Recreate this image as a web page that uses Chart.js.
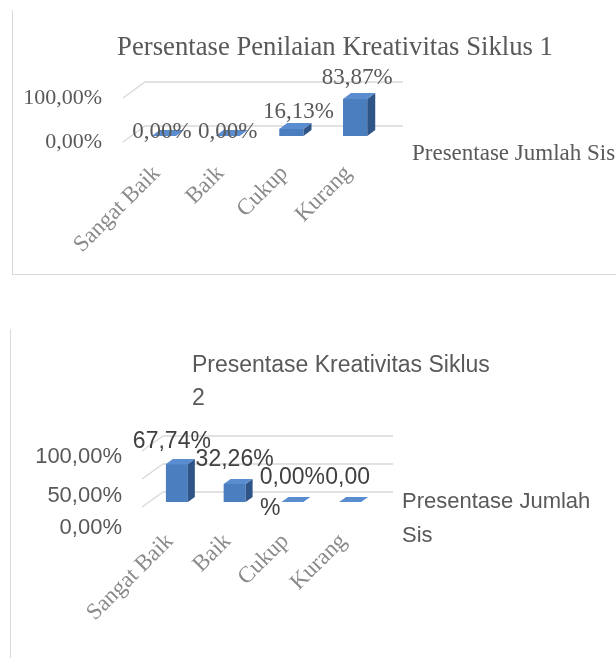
<!DOCTYPE html>
<html><head><meta charset="utf-8">
<script src="https://cdn.jsdelivr.net/npm/chart.js@4.4.1/dist/chart.umd.min.js"></script>
<style>
html,body{margin:0;padding:0;background:#fff;width:616px;height:658px;overflow:hidden;position:relative}
#b1{position:absolute;left:12px;top:10px;width:640px;height:264px;border-left:1px solid #d9d9d9;border-bottom:1px solid #d9d9d9}
#b2{position:absolute;left:10px;top:329px;width:1px;height:340px;background:#d9d9d9}
canvas{position:absolute;left:0}
#c1{top:0}
#c2{top:300px}
</style></head><body>
<div id="b1"></div><div id="b2"></div>
<canvas id="c1" width="616" height="280"></canvas>
<canvas id="c2" width="616" height="358"></canvas>
<script>
// ---- data ----
const categories = ['Sangat Baik', 'Baik', 'Cukup', 'Kurang'];
const seriesName = 'Presentase Jumlah Sis';
const siklus1Values = [0, 0, 16.13, 83.87];
const siklus2Values = [67.74, 32.26, 0, 0];
const title1Lines = ['Persentase Penilaian Kreativitas Siklus 1'];
const title2Lines = ['Presentase Kreativitas Siklus', '2'];
const legend2Lines = ['Presentase Jumlah', 'Sis'];
const yTicks1 = [0, 100];
const yTicks2 = [0, 50, 100];

const fmt = v => Number(v).toFixed(2).replace('.', ',') + '%';

const SERIF = '"Liberation Serif", "Times New Roman", serif';
const SANS = '"Liberation Sans", Arial, sans-serif';

// pseudo-3D bars and floor/back-wall gridlines
const bar3d = {
  id: 'bar3d',
  beforeDatasetsDraw(chart, args, o) {
    const {ctx, chartArea: a} = chart;
    const y = chart.scales.y;
    ctx.save();
    ctx.strokeStyle = o.gridColor;
    ctx.lineWidth = 1.4;
    y.ticks.forEach(t => {
      const py = y.getPixelForValue(t.value);
      ctx.beginPath();
      ctx.moveTo(a.left + o.front[0], py + o.front[1]);
      ctx.lineTo(a.left + o.back[0], py - o.back[1]);
      ctx.lineTo(a.right + o.backRight, py - o.back[1]);
      ctx.stroke();
    });
    ctx.restore();
  },
  afterDatasetsDraw(chart, args, o) {
    const meta = chart.getDatasetMeta(0);
    const ctx = chart.ctx;
    const dx = o.depth[0], dy = o.depth[1];
    ctx.save();
    meta.data.forEach(b => {
      const p = b.getProps(['x', 'y', 'base', 'width'], true);
      const l = p.x - p.width / 2, r = p.x + p.width / 2;
      ctx.fillStyle = o.sideColor;
      ctx.beginPath();
      ctx.moveTo(r, p.y); ctx.lineTo(r + dx, p.y - dy);
      ctx.lineTo(r + dx, p.base - dy); ctx.lineTo(r, p.base);
      ctx.closePath(); ctx.fill();
      ctx.fillStyle = o.topColor;
      ctx.beginPath();
      ctx.moveTo(l, p.y); ctx.lineTo(l + dx, p.y - dy);
      ctx.lineTo(r + dx, p.y - dy); ctx.lineTo(r, p.y);
      ctx.closePath(); ctx.fill();
    });
    ctx.restore();
  }
};

// title, legend text, data labels (and perspective-shifted y tick labels when asked)
const annot = {
  id: 'annot',
  afterDraw(chart, args, o) {
    const ctx = chart.ctx;
    ctx.save();
    ctx.textBaseline = 'alphabetic';
    ctx.fillStyle = o.titleColor;
    ctx.font = o.titleFont;
    ctx.textAlign = o.titleAlign;
    o.titleLines.forEach((s, i) => ctx.fillText(s, o.titleX, o.titleY + i * o.titleLH));
    ctx.fillStyle = o.legendColor;
    ctx.font = o.legendFont;
    ctx.textAlign = 'left';
    o.legendLines.forEach((s, i) => ctx.fillText(s, o.legendX, o.legendY + i * o.legendLH));
    if (o.yTickNudge) {
      const y = chart.scales.y;
      ctx.font = o.yTickFont;
      ctx.fillStyle = '#595959';
      ctx.textAlign = 'right';
      ctx.textBaseline = 'middle';
      y.ticks.forEach((t, i) => {
        ctx.fillText(fmt(t.value), chart.chartArea.left - o.yTickGap, y.getPixelForValue(t.value) + o.yTickNudge[i]);
      });
    }
    const meta = chart.getDatasetMeta(0);
    const data = chart.data.datasets[0].data;
    ctx.font = o.labelFont;
    ctx.fillStyle = o.labelColor;
    ctx.textAlign = 'center';
    ctx.textBaseline = 'middle';
    meta.data.forEach((b, i) => {
      const txt = fmt(data[i]);
      const n = o.nudge[i];
      if (n.wrapAt) {
        ctx.fillText(txt.slice(0, n.wrapAt), b.x + n.dx, b.y + n.dy);
        ctx.fillText(txt.slice(n.wrapAt), b.x + n.wrapDx, b.y + n.dy + n.wrapDy);
      } else {
        ctx.fillText(txt, b.x + n.dx, b.y + n.dy);
      }
    });
    ctx.restore();
  }
};

function makeChart(id, values, cfg) {
  return new Chart(document.getElementById(id), {
    type: 'bar',
    data: {
      labels: categories,
      datasets: [{
        label: seriesName,
        data: values,
        backgroundColor: '#4a7ebf',
        borderWidth: 0,
        barPercentage: 0.38,
        categoryPercentage: 1
      }]
    },
    options: {
      responsive: false,
      animation: false,
      devicePixelRatio: 1,
      layout: {padding: cfg.padding},
      plugins: {
        legend: {display: false},
        title: {display: false},
        tooltip: {enabled: false},
        bar3d: cfg.bar3d,
        annot: cfg.annot
      },
      scales: {
        x: {
          grid: {display: false, drawTicks: false},
          border: {display: false},
          ticks: {
            autoSkip: false, maxRotation: 45, minRotation: 45,
            labelOffset: cfg.xLabelOffset, padding: cfg.xPadding,
            color: '#8a8a8a', font: {family: SERIF, size: 23}
          },
          afterFit(s) { s.height = cfg.xHeight; }
        },
        y: {
          min: 0, max: 100,
          grid: {display: false, drawTicks: false},
          border: {display: false},
          afterBuildTicks(s) { s.ticks = cfg.yTicks.map(v => ({value: v})); },
          ticks: {
            display: cfg.yNative, autoSkip: false,
            padding: cfg.yPadding, labelOffset: cfg.yLabelOffset,
            color: '#595959', font: {family: cfg.yFamily, size: 22},
            callback: v => fmt(v)
          },
          afterFit(s) { s.width = cfg.yWidth; }
        }
      }
    },
    plugins: [bar3d, annot]
  });
}

makeChart('c1', siklus1Values, {
  padding: {left: 0, right: 229, top: 92, bottom: 0},
  xHeight: 144,
  yWidth: 132, yTicks: yTicks1, yNative: true, yPadding: 30, yLabelOffset: 6, yFamily: SERIF,
  xLabelOffset: -7, xPadding: 24,
  bar3d: {gridColor: '#d9d9d9', front: [-9, 6], back: [13, 10], backRight: 16,
          depth: [8, 6], sideColor: '#2f5488', topColor: '#5a8cd0'},
  annot: {
    titleLines: title1Lines, titleFont: '26.7px ' + SERIF, titleAlign: 'center',
    titleX: 335, titleY: 55, titleLH: 33, titleColor: '#595959',
    legendLines: [seriesName], legendFont: '23px ' + SERIF, legendX: 412, legendY: 160,
    legendLH: 34, legendColor: '#595959',
    labelFont: '23px ' + SERIF, labelColor: '#595959',
    nudge: [{dx: -2, dy: -4}, {dx: 0, dy: -4}, {dx: 7, dy: -17}, {dx: 2, dy: -21}]
  }
});

makeChart('c2', siklus2Values, {
  padding: {left: 0, right: 237, top: 146, bottom: 0},
  xHeight: 156,
  yWidth: 148, yTicks: yTicks2, yNative: false, yPadding: 26, yLabelOffset: 0, yFamily: SANS,
  xLabelOffset: -7, xPadding: 26,
  bar3d: {gridColor: '#d9d9d9', front: [-6, 5], back: [15, 10], backRight: 14,
          depth: [7, 5], sideColor: '#2f5488', topColor: '#5a8cd0'},
  annot: {
    titleLines: title2Lines, titleFont: '23px ' + SANS, titleAlign: 'left',
    titleX: 192, titleY: 72, titleLH: 33, titleColor: '#595959',
    legendLines: legend2Lines, legendFont: '22px ' + SANS, legendX: 402, legendY: 208,
    legendLH: 34, legendColor: '#595959',
    yTickNudge: [26, 22, 11], yTickGap: 26, yTickFont: '22px ' + SANS,
    labelFont: '23px ' + SANS, labelColor: '#404040',
    nudge: [{dx: -5, dy: -22}, {dx: 0, dy: -24}, {dx: 0, dy: -24},
            {dx: -2.5, dy: -24, wrapAt: 4, wrapDx: -80, wrapDy: 31}]
  }
});
</script>
</body></html>
